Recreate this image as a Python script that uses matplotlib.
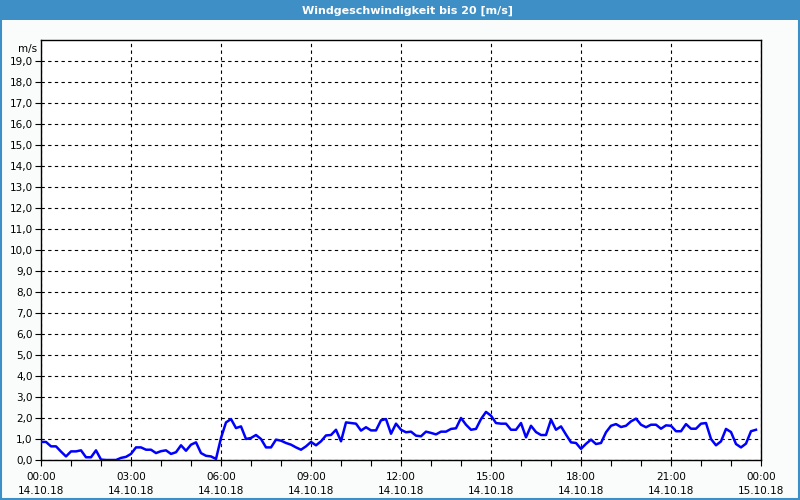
import numpy as np
import matplotlib
matplotlib.use("Agg")
import matplotlib.pyplot as plt
from matplotlib.patches import Rectangle

# wind speed, 10-minute samples starting 14.10.18 00:00
minutes = np.arange(0, 1440, 10)
speed = [
    0.86, 0.86, 0.65, 0.65, 0.40, 0.17, 0.41, 0.41, 0.46, 0.13,
    0.13, 0.46, 0.02, 0.00, 0.00, 0.00, 0.10, 0.15, 0.29, 0.60,
    0.60, 0.49, 0.49, 0.33, 0.42, 0.46, 0.29, 0.37, 0.70, 0.44,
    0.73, 0.84, 0.33, 0.20, 0.17, 0.05, 1.05, 1.79, 1.95, 1.52,
    1.60, 1.00, 1.05, 1.19, 1.00, 0.60, 0.60, 0.97, 0.92, 0.81,
    0.73, 0.60, 0.49, 0.65, 0.86, 0.70, 0.89, 1.17, 1.19, 1.44,
    0.89, 1.79, 1.76, 1.73, 1.40, 1.56, 1.41, 1.41, 1.89, 1.95,
    1.25, 1.73, 1.44, 1.32, 1.35, 1.16, 1.13, 1.35, 1.29, 1.22,
    1.35, 1.35, 1.48, 1.51, 2.00, 1.68, 1.44, 1.48, 1.95, 2.29,
    2.11, 1.76, 1.73, 1.73, 1.44, 1.44, 1.76, 1.08, 1.63, 1.33,
    1.19, 1.19, 1.92, 1.44, 1.60, 1.21, 0.84, 0.81, 0.53, 0.77,
    0.97, 0.76, 0.81, 1.32, 1.63, 1.71, 1.57, 1.63, 1.84, 1.97,
    1.68, 1.56, 1.68, 1.68, 1.49, 1.65, 1.63, 1.37, 1.37, 1.71,
    1.49, 1.49, 1.73, 1.76, 1.00, 0.70, 0.89, 1.48, 1.33, 0.76,
    0.60, 0.78, 1.37, 1.44,
]

x_ticks = [0, 3, 6, 9, 12, 15, 18, 21, 24]
x_labels = ["00:00\n14.10.18", "03:00\n14.10.18", "06:00\n14.10.18",
            "09:00\n14.10.18", "12:00\n14.10.18", "15:00\n14.10.18",
            "18:00\n14.10.18", "21:00\n14.10.18", "00:00\n15.10.18"]
y_ticks = list(range(0, 20))
y_labels = [f"{v},0" for v in y_ticks]

title = "Windgeschwindigkeit bis 20 [m/s]"
bg = "#f9fcfb"
bar = "#3d8fc6"

fig = plt.figure(figsize=(8, 5), dpi=100, facecolor=bg)

# title bar and frame
fig.patches.append(Rectangle((0, 0.96), 1, 0.04, transform=fig.transFigure,
                             facecolor=bar, edgecolor="none", zorder=0))
fig.patches.append(Rectangle((0.001, 0.002), 0.998, 0.996, transform=fig.transFigure,
                             facecolor="none", edgecolor=bar, linewidth=1.5, zorder=0))
fig.text(0.51, 0.979, title, color="white", fontsize=8, fontweight="bold",
         ha="center", va="center")

ax = fig.add_axes([0.05125, 0.08, 0.9, 0.84])
ax.set_facecolor("white")
ax.plot(minutes / 60, speed, color="#0000ff", linewidth=1.8, zorder=3)

ax.set_xlim(0, 24)
ax.set_ylim(0, 20)
ax.set_xticks(x_ticks)
ax.set_xticklabels(x_labels, fontsize=7.5, linespacing=1.45)
ax.set_xticks(np.arange(0, 25, 1), minor=True)
ax.set_yticks(y_ticks)
ax.set_yticklabels(y_labels, fontsize=7.5)
ax.tick_params(axis="both", which="both", length=4, width=0.8, color="black", pad=2)
ax.tick_params(axis="x", which="major", pad=5)

ax.grid(True, which="major", color="black", linestyle=(0, (3, 3)), linewidth=0.8)
ax.set_axisbelow(True)
for s in ax.spines.values():
    s.set_linewidth(1.0)
    s.set_color("black")

ax.text(-0.005, 0.99, "m/s", transform=ax.transAxes, fontsize=7.5,
        ha="right", va="top")

fig.savefig("out.png", dpi=100, facecolor=bg)
